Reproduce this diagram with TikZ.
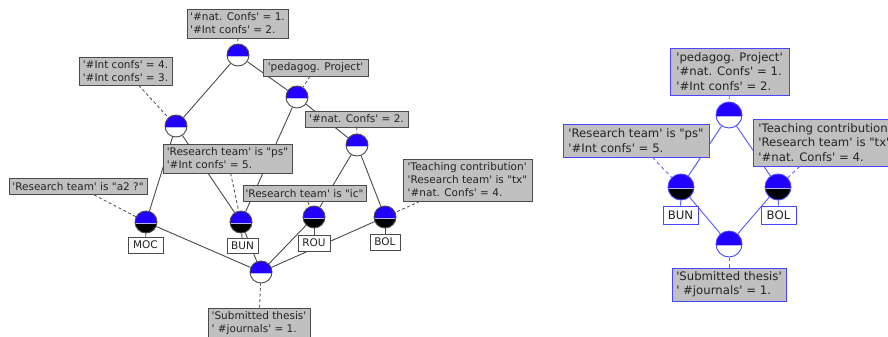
\documentclass[tikz,border=0pt]{standalone}
\usepackage{fontspec}
\newfontfamily\labfont{DejaVu Sans}
\definecolor{cblue}{RGB}{34,0,255}
\definecolor{clight}{RGB}{180,180,255}
\definecolor{lgray}{RGB}{192,192,192}
\definecolor{dgray}{RGB}{75,75,75}
\definecolor{tgray}{RGB}{35,35,35}
\definecolor{rline}{RGB}{100,100,255}
\definecolor{rbox}{RGB}{70,70,255}
\newcommand\cHalfBlue{%
  \fill[cblue] (path picture bounding box.north west) rectangle ([yshift=-0.8pt]path picture bounding box.east);
  \fill[clight] ([yshift=-0.8pt]path picture bounding box.west) rectangle ([yshift=-1.8pt]path picture bounding box.east);}
\newcommand\cHalfBlack{%
  \fill[black] ([yshift=-1.8pt]path picture bounding box.west) rectangle (path picture bounding box.south east);}
\tikzset{
  cbase/.style={circle, inner sep=0pt, fill=white, line width=0.9pt},
  cw/.style={cbase, draw=dgray, minimum size=22pt, path picture={\cHalfBlue}},
  cb/.style={cbase, draw=dgray, minimum size=22pt, path picture={\cHalfBlue\cHalfBlack}},
  rcw/.style={cbase, draw=rbox, minimum size=26pt, path picture={\cHalfBlue}},
  rcb/.style={cbase, draw=rbox, minimum size=26pt, path picture={\cHalfBlue\cHalfBlack}},
  edge/.style={draw=dgray, line width=0.9pt},
  redge/.style={draw=rline, line width=1pt},
  dlink/.style={draw=dgray, line width=0.8pt, dash pattern=on 3pt off 2.5pt},
  rdlink/.style={draw=rline, line width=0.9pt, dash pattern=on 3.5pt off 3pt},
  lab/.style={draw=dgray, fill=lgray, line width=0.8pt, inner sep=0pt, align=left,
    text=tgray, font=\labfont\fontsize{10.5}{13}\selectfont},
  rlab/.style={draw=rbox, fill=lgray, line width=0.9pt, inner sep=0pt, align=left,
    text=tgray, font=\labfont\fontsize{11.7}{14.5}\selectfont},
  obj/.style={draw=dgray, fill=white, line width=0.8pt, inner sep=0pt,
    text=tgray, font=\labfont\fontsize{10.5}{13}\selectfont},
  robj/.style={draw=rbox, fill=white, line width=0.9pt, inner sep=0pt,
    text=tgray, font=\labfont\fontsize{11.7}{14.5}\selectfont},
}
\begin{document}
\begin{tikzpicture}[x=1pt, y=-1pt]
\clip (0,0) rectangle (888,337);
\fill[white] (0,0) rectangle (888,337);
% ---------- left lattice: concepts
\node[cw] (T) at (238,55) {};
\node[cw] (L) at (176,126) {};
\node[cw] (P) at (297,97) {};
\node[cw] (N) at (357,145) {};
\node[cb] (MOC) at (146,222) {};
\node[cb] (BUN) at (241,222) {};
\node[cb] (ROU) at (314,217) {};
\node[cb] (BOL) at (385,217) {};
\node[cw] (B) at (261,272) {};
% edges
\draw[edge] (T) -- (L);
\draw[edge] (T) -- (P);
\draw[edge] (L) -- (MOC);
\draw[edge] (L) -- (BUN);
\draw[edge] (P) -- (BUN);
\draw[edge] (P) -- (N);
\draw[edge] (N) -- (ROU);
\draw[edge] (N) -- (BOL);
\draw[edge] (MOC) -- (B);
\draw[edge] (BUN) -- (B);
\draw[edge] (ROU) -- (B);
\draw[edge] (BOL) -- (B);
% object labels
\node[obj, minimum width=35pt, minimum height=16pt] (oMOC) at (145.5,245) {MOC};
\node[obj, minimum width=31pt, minimum height=15pt] (oBUN) at (242.5,246) {BUN};
\node[obj, minimum width=32pt, minimum height=16pt] (oROU) at (314,243) {ROU};
\node[obj, minimum width=30pt, minimum height=16pt] (oBOL) at (385,242) {BOL};
\draw[edge] (MOC) -- (oMOC);
\draw[edge] (BUN) -- (oBUN);
\draw[edge] (ROU) -- (oROU);
\draw[edge] (BOL) -- (oBOL);
% attribute labels
\node[lab, minimum width=101pt, minimum height=29pt] (lT) at (237.5,23.5) {'\#nat. Confs' = 1.\\'\#Int confs' = 2.};
\node[lab, minimum width=93pt, minimum height=28pt] (lL) at (125.5,71) {'\#Int confs' = 4.\\'\#Int confs' = 3.};
\node[lab, minimum width=105pt, minimum height=17pt] (lP) at (315.5,67.5) {'pedagog. Project'};
\node[lab, minimum width=129pt, minimum height=29pt] (lPS) at (227.5,158.5) {'Research team' is "ps"\\'\#Int confs' = 5.};
\node[lab, minimum width=103pt, minimum height=16pt] (lN) at (356.5,119) {'\#nat. Confs' = 2.};
\node[lab, minimum width=123pt, minimum height=16pt] (lIC) at (304.5,193.5) {'Research team' is "ic"};
\node[lab, minimum width=129pt, minimum height=42pt] (lTX) at (467.5,180) {'Teaching contribution'\\'Research team' is "tx"\\'\#nat. Confs' = 4.};
\node[lab, minimum width=138pt, minimum height=16pt] (lA2) at (78,186.5) {'Research team' is "a2 ?"};
\node[lab, minimum width=102pt, minimum height=30pt] (lSub) at (259,323) {'Submitted thesis'\\' \#journals' = 1.};
\draw[dlink] (lT) -- (T);
\draw[dlink] (lL) -- (L);
\draw[dlink] (lP) -- (P);
\draw[dlink] (lPS) -- (BUN);
\draw[dlink] (lN) -- (N);
\draw[dlink] (lIC) -- (ROU);
\draw[dlink] (lTX) -- (BOL);
\draw[dlink] (lA2) -- (MOC);
\draw[dlink] (lSub) -- (B);
% ---------- right lattice
\node[rcw] (rT) at (729,115) {};
\node[rcb] (rBUN) at (681,187) {};
\node[rcb] (rBOL) at (778,187) {};
\node[rcw] (rB) at (729,244) {};
\draw[redge] (rT) -- (rBUN);
\draw[redge] (rT) -- (rBOL);
\draw[redge] (rBUN) -- (rB);
\draw[redge] (rBOL) -- (rB);
\node[robj, minimum width=35pt, minimum height=18pt] (roBUN) at (680.5,215) {BUN};
\node[robj, minimum width=35pt, minimum height=18pt] (roBOL) at (778.5,215) {BOL};
\draw[redge] (rBUN) -- (roBUN);
\draw[redge] (rBOL) -- (roBOL);
\node[rlab, minimum width=119pt, minimum height=47pt] (rlT) at (729.5,71.5) {'pedagog. Project'\\'\#nat. Confs' = 1.\\'\#Int confs' = 2.};
\node[rlab, minimum width=146pt, minimum height=33pt] (rlPS) at (636,140.5) {'Research team' is "ps"\\'\#Int confs' = 5.};
\node[rlab, minimum width=144pt, minimum height=47pt] (rlTX) at (825,142.5) {'Teaching contribution'\\'Research team' is "tx"\\'\#nat. Confs' = 4.};
\node[rlab, minimum width=114pt, minimum height=33pt] (rlSub) at (729,284.5) {'Submitted thesis'\\' \#journals' = 1.};
\draw[rdlink] (rlT) -- (rT);
\draw[rdlink] (rlPS) -- (rBUN);
\draw[rdlink] (rlTX) -- (rBOL);
\draw[rdlink] (rlSub) -- (rB);
\end{tikzpicture}
\end{document}
